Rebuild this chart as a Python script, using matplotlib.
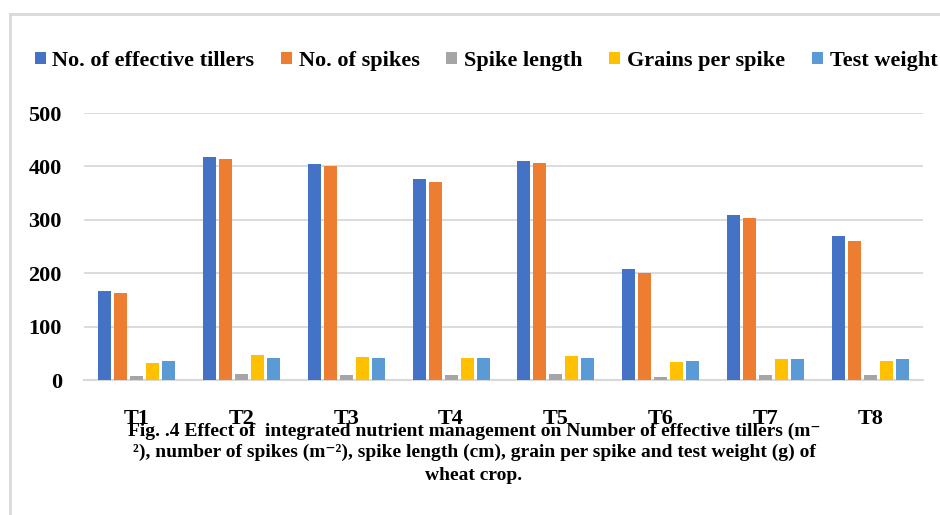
import matplotlib
matplotlib.use("Agg")
import matplotlib.pyplot as plt
from matplotlib.lines import Line2D
import numpy as np

# treatments and series
treatments = ["T1", "T2", "T3", "T4", "T5", "T6", "T7", "T8"]
effective_tillers = [167, 417, 404, 376, 411, 208, 310, 270]
spikes = [164, 414, 400, 371, 406, 201, 303, 260]
spike_length = [8, 12, 10.5, 9.5, 12, 7, 9, 9]
grains_per_spike = [32, 47, 44, 42, 45.5, 34, 39, 36]
test_weight = [36, 42, 42, 41, 42, 36, 39, 39]

series_names = ["No. of effective tillers", "No. of spikes", "Spike length",
                "Grains per spike", "Test weight"]
series_colors = ["#4472C4", "#ED7D31", "#A5A5A5", "#FFC000", "#5B9BD5"]
yticks = [0, 100, 200, 300, 400, 500]

caption_lines = [
    "Fig. .4 Effect of  integrated nutrient management on Number of effective tillers (m\u207b",
    "\u00b2), number of spikes (m\u207b\u00b2), spike length (cm), grain per spike and test weight (g) of",
    "wheat crop.",
]

serif = ["Liberation Serif", "DejaVu Serif"]
plt.rcParams["font.family"] = serif
plt.rcParams["font.weight"] = "bold"

W, H = 940, 515
fig = plt.figure(figsize=(W / 100, H / 100), dpi=100)
ax = fig.add_axes([84 / W, (H - 380.3) / H, (923 - 84) / W, (380.3 - 113) / H])

x = np.arange(len(treatments))
pitch = 16 / 104.9
bw = 13 / 104.9
all_series = [effective_tillers, spikes, spike_length, grains_per_spike, test_weight]
for i, (vals, name, col) in enumerate(zip(all_series, series_names, series_colors)):
    ax.bar(x + (i - 2) * pitch, vals, width=bw, color=col, label=name, zorder=3)

ax.set_xlim(-0.5, len(treatments) - 0.5)
ax.set_ylim(0, 500)
ax.set_yticks(yticks)
ax.set_xticks(x)
ax.set_xticklabels(treatments)
ax.tick_params(axis="both", length=0, labelsize=16)
ax.tick_params(axis="y", pad=16)
ax.tick_params(axis="x", pad=21)
for lbl in ax.get_xticklabels() + ax.get_yticklabels():
    lbl.set_fontweight("bold")
ax.yaxis.grid(True, color="#d9d9d9", linewidth=1.3, zorder=0)
for s in ["top", "right", "left"]:
    ax.spines[s].set_visible(False)
ax.spines["bottom"].set_color("#d9d9d9")
ax.spines["bottom"].set_linewidth(1.5)

ax.legend(loc="center", bbox_to_anchor=(486 / W, (H - 61) / H),
          bbox_transform=fig.transFigure, ncol=5, frameon=False,
          prop={"family": serif, "weight": "bold", "size": 16},
          handlelength=0.5, handleheight=0.5, handletextpad=0.3,
          columnspacing=1.2, borderpad=0)

# outer chart frame (left and top edges visible)
fig.add_artist(Line2D([9.5 / W, 9.5 / W], [0, (H - 14) / H], color="#d9d9d9",
                      linewidth=2, transform=fig.transFigure))
fig.add_artist(Line2D([9.5 / W, 1], [(H - 14) / H, (H - 14) / H], color="#d9d9d9",
                      linewidth=2, transform=fig.transFigure))

for line, yc in zip(caption_lines, [431, 452, 476]):
    fig.text(474 / W, (H - yc) / H, line, ha="center", va="center",
             fontsize=14, fontweight="bold", family=serif)

fig.savefig("out.png", dpi=100)
